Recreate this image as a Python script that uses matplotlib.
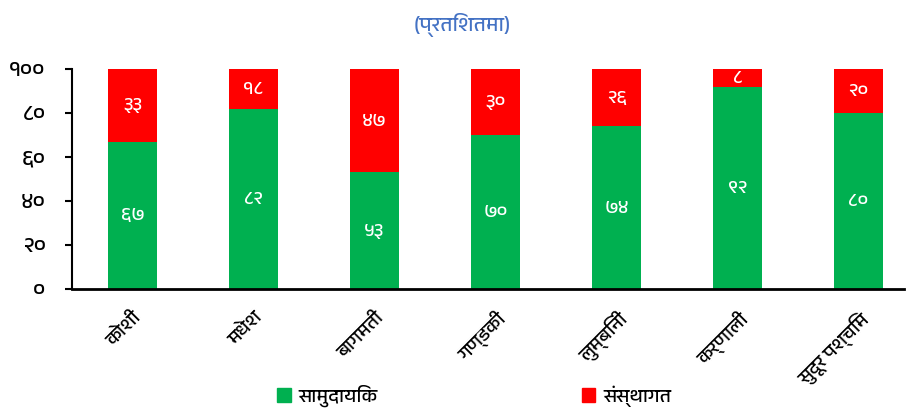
import matplotlib
matplotlib.use("Agg")
import matplotlib.pyplot as plt
from matplotlib import font_manager
from matplotlib.ft2font import FT2Font
from matplotlib.patches import Patch

provinces = ["कोशी", "मधेश", "बागमती", "गण्डकी", "लुम्बिनी", "कर्णाली", "सुदूर पश्चिम"]
samudayik = [67, 82, 53, 70, 74, 92, 80]
sansthagat = [33, 18, 47, 30, 26, 8, 20]
yticks = [0, 20, 40, 60, 80, 100]
series_names = ["सामुदायिक", "संस्थागत"]
title_text = "(प्रतिशतमा)"

DEV_DIGITS = "०१२३४५६७८९"


def dev_num(n):
    return "".join(DEV_DIGITS[int(d)] for d in str(n))


# find an installed face that can draw Devanagari
def find_devanagari_font():
    best = None
    for fe in font_manager.fontManager.ttflist:
        try:
            cmap = FT2Font(fe.fname).get_charmap()
        except Exception:
            continue
        if 0x0915 in cmap and 0x0966 in cmap:
            if "Devanagari" in fe.name:
                return fe.name
            if best is None:
                best = fe.name
    return best


dev_font = find_devanagari_font()
families = [dev_font, "DejaVu Sans"] if dev_font else ["DejaVu Sans"]
plt.rcParams["font.family"] = families

GREEN = "#00B050"
RED = "#FF0000"

fig = plt.figure(figsize=(9.08, 4.12), dpi=100)
ax = fig.add_axes([72 / 908, 123 / 412, 832 / 908, 220 / 412])

x = list(range(len(provinces)))
width = 0.4
ax.bar(x, samudayik, width, color=GREEN, label=series_names[0])
ax.bar(x, sansthagat, width, bottom=samudayik, color=RED, label=series_names[1])

for i in x:
    ax.text(i, samudayik[i] / 2, dev_num(samudayik[i]), ha="center", va="center",
            color="white", fontsize=14)
    ax.text(i, samudayik[i] + sansthagat[i] / 2, dev_num(sansthagat[i]), ha="center",
            va="center", color="white", fontsize=14)

ax.set_xlim(-0.5, -0.5 + 832 / 121)
ax.set_ylim(0, 100)
ax.set_yticks(yticks)
ax.set_yticklabels([dev_num(v) for v in yticks], fontsize=16)
ax.set_xticks(x)
ax.set_xticklabels(provinces, rotation=45, ha="right", rotation_mode="anchor", fontsize=14)
ax.tick_params(axis="x", length=0, pad=14)
ax.tick_params(axis="y", length=5, width=1.5, pad=14)

for s in ["top", "right"]:
    ax.spines[s].set_visible(False)
ax.spines["left"].set_linewidth(1.5)
ax.spines["bottom"].set_linewidth(2)

fig.text(462 / 908, 1 - 25 / 412, title_text, ha="center", va="center",
         color="#4472C4", fontsize=15)

handles = [Patch(color=GREEN), Patch(color=RED)]
fig.legend(handles, series_names, loc="center", bbox_to_anchor=(474 / 908, 1 - 396 / 412),
           ncol=2, frameon=False, fontsize=14, handlelength=0.7, handleheight=0.7,
           handletextpad=0.4, columnspacing=10.5)

fig.savefig("out.png", dpi=100)
